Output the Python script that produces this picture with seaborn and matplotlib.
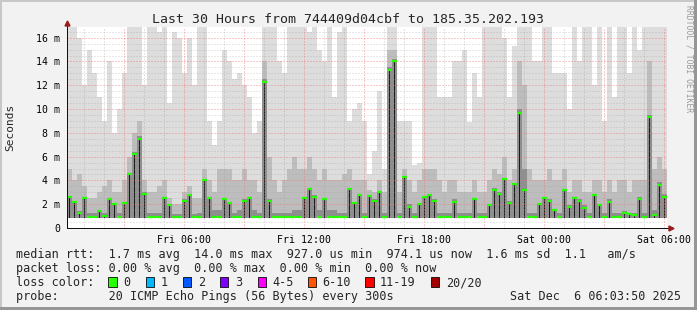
import numpy as np
import pandas as pd
import matplotlib
matplotlib.use("Agg")
import matplotlib.pyplot as plt
import seaborn as sns
from matplotlib.patches import Rectangle
from matplotlib.lines import Line2D

sns.set_style("white")
plt.rcParams["font.family"] = ["DejaVu Sans Mono", "DejaVu Sans"]

# ---------------- data (15-minute steps, hours since Fri 00:00) ----------------
start_hour = 0.15
step_hours = 0.25
rtt_min = 0.88  # ms, lower edge of the smoke

median_ms = [2.6, 2.2, 1.3, 2.5, 0.95, 0.95, 1.4, 1.0, 2.4, 2.0, 0.95, 2.1, 4.5, 6.2, 7.5, 2.9, 0.95, 0.95, 0.95, 2.5,
             1.9, 0.95, 0.95, 2.3, 2.8, 0.95, 0.95, 4.0, 2.5, 0.95, 0.95, 2.4, 2.1, 0.95, 0.95, 2.3, 2.5, 0.95, 0.95, 12.3,
             2.3, 0.95, 0.95, 0.95, 0.95, 0.95, 0.95, 2.5, 3.3, 2.6, 0.95, 2.4, 0.95, 0.95, 0.95, 0.95, 3.3, 2.1, 2.8, 0.95,
             2.7, 2.3, 3.0, 0.95, 13.3, 14.0, 0.95, 4.3, 1.8, 0.95, 2.0, 2.6, 2.8, 2.3, 0.95, 0.95, 0.95, 2.2, 0.95, 0.95,
             0.95, 2.4, 0.95, 0.95, 1.9, 3.2, 2.9, 4.1, 2.1, 3.7, 9.7, 3.2, 0.95, 0.95, 2.0, 2.5, 2.3, 1.5, 0.95, 3.2,
             1.8, 2.5, 2.3, 1.7, 0.95, 2.8, 1.9, 0.95, 2.2, 0.95, 0.95, 1.3, 1.2, 1.1, 2.4, 0.95, 9.3, 1.1, 3.6, 2.6]

dense_ms = [2.7, 2.3, 1.4, 2.6, 1.3, 1.3, 1.5, 1.3, 2.5, 2.1, 1.3, 2.2, 4.6, 6.4, 7.7, 3.0, 1.3, 1.3, 1.3, 2.6,
            2.0, 1.2, 1.2, 2.4, 2.9, 1.2, 1.3, 4.1, 2.6, 1.5, 1.5, 2.5, 2.2, 1.3, 1.5, 2.4, 2.6, 1.5, 1.3, 12.5,
            2.4, 1.3, 1.3, 1.3, 1.3, 1.5, 1.5, 2.6, 3.4, 2.8, 1.5, 2.5, 1.5, 1.5, 1.3, 1.3, 3.4, 2.2, 2.9, 1.3,
            2.8, 2.4, 3.1, 1.3, 13.5, 14.2, 1.3, 4.4, 2.0, 1.3, 2.1, 2.7, 2.9, 2.4, 1.3, 1.3, 1.3, 2.4, 1.3, 1.3,
            1.3, 2.5, 1.3, 1.3, 2.0, 3.4, 3.0, 4.2, 2.3, 3.8, 10.0, 5.0, 1.3, 1.3, 2.1, 2.6, 2.4, 1.6, 1.3, 3.3,
            1.9, 2.6, 2.4, 1.9, 1.3, 2.9, 2.0, 1.3, 2.4, 1.3, 1.3, 1.4, 1.3, 1.3, 2.6, 1.3, 9.5, 1.5, 3.9, 2.9]

mid_ms = [5, 4, 4.5, 3.5, 2.5, 2.5, 3, 3.5, 4, 3, 3, 4, 6, 8, 9, 4, 3, 3, 3.5, 4,
          2.5, 2, 2, 3, 3.5, 2.5, 2.5, 5, 4, 3, 5, 5, 5, 4, 4, 5, 4, 4, 3, 14,
          6, 4, 3, 4, 5, 6, 5, 5, 6, 5, 4, 5, 4, 4, 4, 4.5, 5, 4, 4, 4,
          3.2, 3, 4, 3, 15, 15, 3, 5, 4, 3, 4, 5, 5, 5, 4, 3, 4, 4, 3, 3,
          3, 4, 3, 3, 4, 5, 4.5, 6, 4, 5, 14, 12, 5, 4, 4, 4, 5, 4, 4, 5,
          3, 4, 4, 3, 3, 4, 4, 3, 4, 3, 4, 4, 3, 4, 4, 4, 14, 5, 6, 5]

max_ms = [16.9, 16.9, 16, 12, 15, 13, 11, 9, 14, 8, 10, 13, 16.9, 16.9, 16.9, 12, 16.9, 16.9, 16.5, 16.9,
          10.5, 16.5, 16, 13, 16, 12, 16.9, 16.9, 9, 7, 9, 15, 14, 12.5, 13, 12, 11, 8, 9, 16.9,
          16.9, 16.9, 14, 13, 16.9, 16.9, 16.9, 16.9, 16.5, 16.9, 15, 14, 16.9, 11, 16.5, 16.9, 9, 10, 10.5, 9,
          4.5, 6.5, 11.5, 5, 16.9, 16.9, 9, 9, 9, 5.3, 5.5, 16.9, 16.9, 16.9, 11, 11, 11, 14, 14, 15,
          8.9, 13, 11, 16.9, 16.9, 16.9, 16.9, 16, 11, 15.3, 16.9, 16.9, 16.9, 14, 14, 16.9, 16.9, 13, 13, 13,
          10, 16.9, 14, 16.9, 16.9, 12, 16.9, 9, 16.9, 11, 16.9, 16.9, 13, 16.9, 15, 16.9, 16.9, 16.9, 16.9, 16.9]

x_tick_hours = [6, 12, 18, 24, 30]
x_tick_labels = ["Fri 06:00", "Fri 12:00", "Fri 18:00", "Sat 00:00", "Sat 06:00"]
y_ticks = [0, 2, 4, 6, 8, 10, 12, 14, 16]
y_tick_labels = ["0"] + [f"{v} m" for v in y_ticks[1:]]

title = "Last 30 Hours from 744409d04cbf to 185.35.202.193"
legend_lines = [
    "median rtt:  1.7 ms avg  14.0 ms max  927.0 us min  974.1 us now  1.6 ms sd  1.1   am/s",
    "packet loss: 0.00 % avg  0.00 % max  0.00 % min  0.00 % now",
    "loss color:",
    "probe:       20 ICMP Echo Pings (56 Bytes) every 300s",
]
loss_labels = ["0", "1", "2", "3", "4-5", "6-10", "11-19", "20/20"]
loss_colors = ["#26ff00", "#00b8ff", "#0059ff", "#7e00ff", "#ff00ff", "#ff5500", "#ff0000", "#a00000"]
stamp = "Sat Dec  6 06:03:50 2025"

# ---------------- figure ----------------
W, H = 697, 310
PT = 72 / 100.0
BACK = "#F2F2F2"
fig = plt.figure(figsize=(W / 100, H / 100), dpi=100, facecolor=BACK)


def fx(x):
    return x / W


def fy(y):
    return 1 - y / H


ax = fig.add_axes([fx(67), fy(228), 600 / W, 201 / H])
ax.set_facecolor("white")
YMAX = 16.9
X0, X1 = start_hour, start_hour + 30
ax.set_xlim(X0, X1)
ax.set_ylim(0, YMAX)

n = len(median_ms)
edges = start_hour + step_hours * np.arange(n + 1)


def ext(a):
    a = np.asarray(a, float)
    return np.append(a, a[-1])


# smoke: outer (lightest) -> inner (darkest)
ax.fill_between(edges, rtt_min, ext(max_ms), step="post", color="#DDDDDD", lw=0, zorder=1)
ax.fill_between(edges, rtt_min, ext(mid_ms), step="post", color="#BDBDBD", lw=0, zorder=1.1)
ax.fill_between(edges, rtt_min, ext(dense_ms), step="post", color="#8E8E8E", lw=0, zorder=1.2)
ax.bar(edges[:-1] + step_hours / 2, np.asarray(median_ms) - rtt_min, width=step_hours * 0.38,
       bottom=rtt_min, color="#1A1A1A", lw=0, zorder=1.3)

# median segments (one per step), drawn with seaborn
seg = pd.DataFrame({
    "t": np.concatenate([edges[:-1], edges[1:]]),
    "rtt": np.concatenate([median_ms, median_ms]),
    "step": np.concatenate([np.arange(n), np.arange(n)]),
})
sns.lineplot(data=seg, x="t", y="rtt", units="step", estimator=None, color="#26ff00",
             linewidth=2.2 * PT, ax=ax, legend=False, zorder=6, solid_capstyle="butt")

# grid (drawn on top of the smoke, RRDtool style)
for h in range(1, 31):
    major = h % 3 == 0
    ax.axvline(h, color="#F07070" if major else "#9A9A9A", lw=1 * PT,
               ls=(0, (1, 2)), alpha=0.75 if major else 0.55, zorder=3)
for v in np.arange(0.5, YMAX, 0.5):
    major = abs(v % 2) < 1e-9
    ax.axhline(v, color="#F07070" if major else "#9A9A9A", lw=1 * PT,
               ls=(0, (1, 2)), alpha=0.75 if major else 0.45, zorder=3)

ax.set_xticks(x_tick_hours)
ax.set_xticklabels(x_tick_labels)
ax.set_yticks(y_ticks)
ax.set_yticklabels(y_tick_labels)
ax.tick_params(axis="x", length=2.5 * PT, width=1 * PT, pad=4.2 * PT, labelsize=7.1, colors="black", direction="out")
ax.tick_params(axis="y", length=3.5 * PT, width=1 * PT, pad=3 * PT, labelsize=7.1, colors="black", direction="out")
ax.set_xlabel("")
ax.set_ylabel("")
for s in ["top", "right"]:
    ax.spines[s].set_visible(False)
for s in ["left", "bottom"]:
    ax.spines[s].set_color("#111111")
    ax.spines[s].set_linewidth(1 * PT)
    ax.spines[s].set_zorder(7)

# axis arrows
ARROW = "#9a1c1c"
fig.add_artist(Line2D([fx(67), fx(67)], [fy(228), fy(23)], color="#111111", lw=1 * PT))
fig.add_artist(Line2D([fx(67), fx(670)], [fy(228), fy(228)], color="#111111", lw=1 * PT))
fig.add_artist(Line2D([fx(67)], [fy(22.5)], marker="^", markersize=5 * PT, color=ARROW, lw=0))
fig.add_artist(Line2D([fx(670.5)], [fy(228)], marker=">", markersize=5 * PT, color=ARROW, lw=0))

# texts
fig.text(fx(347.5), fy(19.5), title, ha="center", va="center", fontsize=9.5)
fig.text(fx(10), fy(127.5), "Seconds", rotation=90, ha="center", va="center", fontsize=8)
fig.text(fx(688.5), fy(5), "RRDTOOL / TOBI OETIKER", rotation=270, ha="center", va="top",
         fontsize=5.8, color="#9A9A9A")

baselines = [258.3, 272.3, 286.3, 300.3]
for line, yb in zip(legend_lines, baselines):
    fig.text(fx(16), fy(yb), line, ha="left", va="baseline", fontsize=8.5)
fig.text(fx(680.5), fy(baselines[3]), stamp, ha="right", va="baseline", fontsize=8.5)

box_x = [108, 145.7, 182.7, 219.7, 257.7, 307.5, 365, 430.7]
for bx, lab, col in zip(box_x, loss_labels, loss_colors):
    fig.add_artist(Rectangle((fx(bx), fy(287)), 8.5 / W, 10 / H, transform=fig.transFigure,
                             facecolor=col, edgecolor="black", lw=0.8 * PT))
    fig.text(fx(bx + 15), fy(baselines[2]), lab, ha="left", va="baseline", fontsize=8.5)

# 3D frame
fig.add_artist(Rectangle((0, 1 - 2 / H), 1, 2 / H, transform=fig.transFigure, color="#C8C8C8", lw=0))
fig.add_artist(Rectangle((0, 0), 2 / W, 1, transform=fig.transFigure, color="#C8C8C8", lw=0))
fig.add_artist(Rectangle((0, 0), 1, 3 / H, transform=fig.transFigure, color="#969696", lw=0))
fig.add_artist(Rectangle((1 - 3 / W, 0), 3 / W, 1, transform=fig.transFigure, color="#969696", lw=0))

fig.savefig("out.png", dpi=100, facecolor=BACK)
